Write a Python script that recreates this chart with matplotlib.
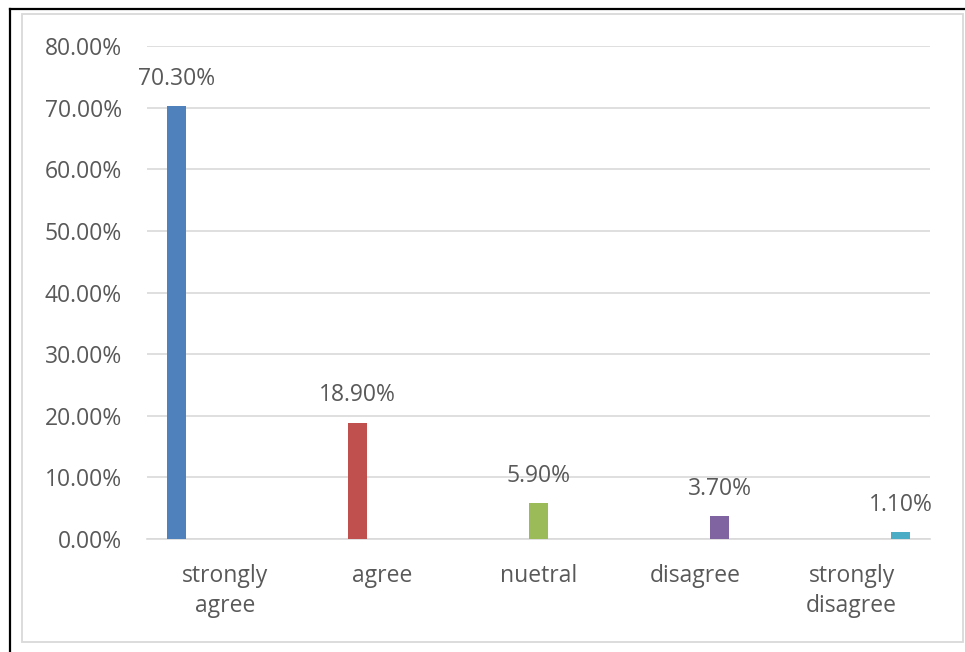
import matplotlib
matplotlib.use("Agg")
import matplotlib.pyplot as plt
from matplotlib.lines import Line2D
from matplotlib.patches import Rectangle

categories = ["strongly\nagree", "agree", "nuetral", "disagree", "strongly\ndisagree"]
values = [70.3, 18.9, 5.9, 3.7, 1.1]
value_labels = ["70.30%", "18.90%", "5.90%", "3.70%", "1.10%"]
colors = ["#4F81BD", "#C0504D", "#9BBB59", "#8064A2", "#4BACC6"]
yticks = [0, 10, 20, 30, 40, 50, 60, 70, 80]

W, H = 965, 652
plt.rcParams['font.family'] = ['Open Sans', 'DejaVu Sans']
fig = plt.figure(figsize=(W / 100, H / 100), dpi=100)
fig.patch.set_facecolor("white")

left, right, bottom_px, top_px = 147, 930, 539, 46
ax = fig.add_axes([left / W, 1 - bottom_px / H, (right - left) / W, (bottom_px - top_px) / H])

text_color = "#595959"
grid_color = "#D9D9D9"
fs = 16.5

step = 0.156
width = 0.125
n = len(values)
for i, (v, c, lab) in enumerate(zip(values, colors, value_labels)):
    x = i + (i - (n - 1) / 2) * step
    ax.bar(x, v, width=width, color=c, zorder=3)
    ax.annotate(lab, (x, v), xytext=(0, 19.5), textcoords="offset points",
                ha="center", va="center", fontsize=fs, color=text_color, zorder=4)

ax.set_xlim(-0.5, n - 0.5)
ax.set_ylim(0, 80)
ax.set_yticks(yticks)
ax.set_yticklabels([f"{t:.2f}%" for t in yticks])
ax.set_xticks(range(n))
ax.set_xticklabels(categories, linespacing=1.32)
ax.tick_params(axis="y", length=0, pad=18, labelsize=fs, labelcolor=text_color)
ax.tick_params(axis="x", length=0, pad=18, labelsize=fs, labelcolor=text_color)
ax.yaxis.grid(True, color=grid_color, linewidth=1.2, zorder=0)
ax.set_axisbelow(True)
for s in ["top", "right", "left"]:
    ax.spines[s].set_visible(False)
ax.spines["bottom"].set_color(grid_color)
ax.spines["bottom"].set_linewidth(1.2)

# frames
fig.add_artist(Rectangle((22 / W, 1 - 642 / H), (963 - 22) / W, (642 - 14) / H,
                         transform=fig.transFigure, fill=False, edgecolor="#D9D9D9", linewidth=1.3))
fig.add_artist(Line2D([9.5 / W, 1], [1 - 8.5 / H, 1 - 8.5 / H], transform=fig.transFigure,
                      color="black", linewidth=1.6))
fig.add_artist(Line2D([9.5 / W, 9.5 / W], [0, 1 - 8.5 / H], transform=fig.transFigure,
                      color="black", linewidth=1.6))

fig.savefig("out.png", dpi=100, facecolor="white")
